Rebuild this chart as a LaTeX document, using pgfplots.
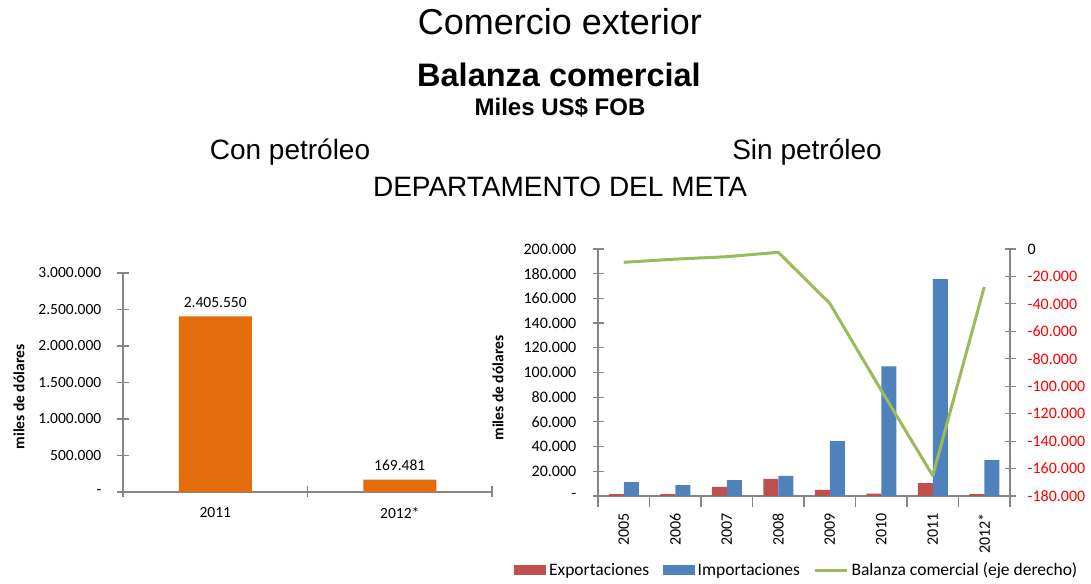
\documentclass[border=0pt]{standalone}
\usepackage{pgfplots}
\pgfplotsset{compat=1.18}
\usepackage{fontspec}
\setmainfont{Liberation Sans}
\newfontfamily\carlito{Carlito}

\definecolor{barorange}{HTML}{E46C0A}
\definecolor{expred}{HTML}{C0504D}
\definecolor{impblue}{HTML}{4F81BD}
\definecolor{balgreen}{HTML}{9BBB59}
\definecolor{axgray}{HTML}{868686}
\definecolor{labred}{HTML}{FF0000}

\newcommand{\fs}[1]{\fontsize{#1}{#1}\selectfont}

\pgfplotsset{
  excel/.style={
    scale only axis,
    tick style={draw=axgray, line width=1.2pt},
    tick align=center,
    major tick length=11pt,
    tick label style={font=\carlito\fs{15.5}, inner sep=0pt},
    label style={font=\carlito\bfseries\fs{15.5}},
    scaled ticks=false,
    enlargelimits=false,
    clip=false,
  },
  noarrows/.style={
    axis line style={draw=axgray, line width=1.2pt, -},
    every outer x axis line/.append style={-},
    every outer y axis line/.append style={-},
  },
}

\begin{document}
\begin{tikzpicture}[x=1pt,y=1pt]
\useasboundingbox (0,0) rectangle (1091,583);

% titles
\node[anchor=base, font=\fs{36}] at (560,548) {Comercio exterior};
\node[anchor=base, font=\bfseries\fs{32.5}] at (559,496) {Balanza comercial};
\node[anchor=base, font=\bfseries\fs{24}] at (560,467) {Miles US\$ FOB};
\node[anchor=base, font=\fs{28}] at (290,423) {Con petróleo};
\node[anchor=base, font=\fs{28}] at (807,423) {Sin petróleo};
\node[anchor=base, font=\fs{28}] at (560,386) {DEPARTAMENTO DEL META};

% con petroleo
\begin{axis}[excel,
  at={(123pt,91pt)}, anchor=south west,
  width=369pt, height=219pt,
  axis x line=bottom, axis y line=left, noarrows,
  xmin=0, xmax=2, ymin=0, ymax=3000000,
  ytick={0,500000,1000000,1500000,2000000,2500000,3000000},
  yticklabels={-,500.000,1.000.000,1.500.000,2.000.000,2.500.000,3.000.000},
  xtick={0,1,2}, xticklabels={2011,2012*},
  x tick label as interval,
  yticklabel shift=16pt,
  xticklabel shift=10pt,
  ylabel={miles de dólares},
  ylabel style={at={(axis description cs:-0.282,0.434)}, anchor=center},
]
\addplot[ybar, fill=barorange, draw=none, bar width=73pt,
  nodes near coords, point meta=explicit symbolic,
  every node near coord/.append style={anchor=south, inner sep=0pt, yshift=9pt, font=\carlito\fs{15.5}}]
  coordinates {(0.5,2405550)[2.405.550] (1.5,169481)[169.481]};
\end{axis}

% sin petroleo: barras
\begin{axis}[excel,
  at={(598pt,87pt)}, anchor=south west,
  width=412pt, height=247pt,
  axis x line=bottom, axis y line=left, noarrows,
  xmin=0, xmax=8, ymin=0, ymax=200000,
  ytick={0,20000,40000,60000,80000,100000,120000,140000,160000,180000,200000},
  yticklabels={-,20.000,40.000,60.000,80.000,100.000,120.000,140.000,160.000,180.000,200.000},
  xtick={0,1,2,3,4,5,6,7,8},
  xticklabels={2005,2006,2007,2008,2009,2010,2011,2012*},
  x tick label as interval,
  tick label style={font=\carlito\fs{16}},
  xticklabel style={rotate=90, anchor=east},
  yticklabel shift=16pt,
  xticklabel shift=6pt,
  ybar=0pt, bar width=15pt,
  ylabel={miles de dólares},
  ylabel style={at={(axis description cs:-0.243,0.437)}, anchor=center},
  legend columns=3,
  legend cell align=left,
  legend style={at={(-0.204,-0.3)}, anchor=west, draw=none, fill=none,
    font=\carlito\fs{17.5}, inner sep=0pt, nodes={inner sep=1.5pt},
    /tikz/every odd column/.append style={column sep=1.5pt},
    /tikz/every even column/.append style={column sep=12pt}},
]
\addplot[fill=expred, draw=none,
  legend image code/.code={\fill[expred] (0pt,-5pt) rectangle (32pt,5pt);}]
  coordinates {(0.5,1600) (1.5,1500) (2.5,7300) (3.5,13800) (4.5,4900) (5.5,2000) (6.5,10500) (7.5,1500)};
\addplot[fill=impblue, draw=none,
  legend image code/.code={\fill[impblue] (0pt,-5pt) rectangle (32pt,5pt);}]
  coordinates {(0.5,11300) (1.5,8900) (2.5,12900) (3.5,16200) (4.5,44500) (5.5,105000) (6.5,175700) (7.5,29100)};
\addlegendimage{legend image code/.code={\draw[balgreen, line width=3pt] (0pt,0pt) -- (32pt,0pt);}}
\legend{Exportaciones,Importaciones,Balanza comercial (eje derecho)}
\end{axis}

% sin petroleo: balanza (eje derecho)
\begin{axis}[excel,
  at={(598pt,87pt)}, anchor=south west,
  width=412pt, height=247pt,
  axis x line=none, axis y line*=right, noarrows,
  xmin=0, xmax=8, ymin=-180000, ymax=0,
  xtick=\empty,
  ytick={-180000,-160000,-140000,-120000,-100000,-80000,-60000,-40000,-20000,0},
  yticklabels={-180.000,-160.000,-140.000,-120.000,-100.000,-80.000,-60.000,-40.000,-20.000,{\color{black}0}},
  tick label style={font=\carlito\fs{16}},
  yticklabel style={anchor=west, text=labred},
  yticklabel shift=12pt,
]
\addplot[balgreen, line width=3pt, line join=round]
  coordinates {(0.5,-9700) (1.5,-7400) (2.5,-5600) (3.5,-2400) (4.5,-39600) (5.5,-103000) (6.5,-165200) (7.5,-27600)};
\end{axis}
\end{tikzpicture}
\end{document}
